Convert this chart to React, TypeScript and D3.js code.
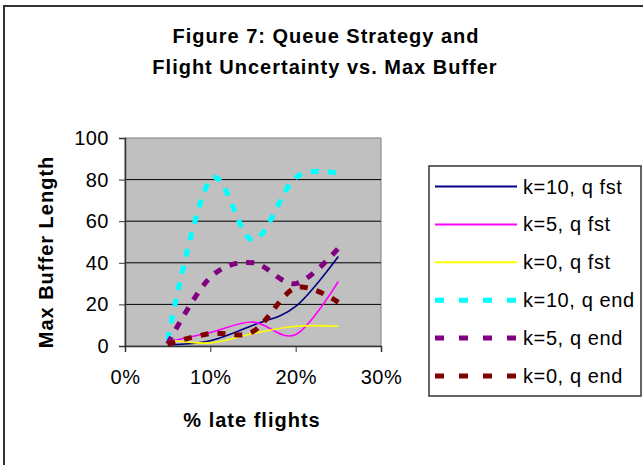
import { useEffect, useRef } from 'react'
import * as d3 from 'd3'

const lateShare = [0.05, 0.1, 0.15, 0.2, 0.25]
const seriesNames = ['k=10, q fst', 'k=5, q fst', 'k=0, q fst', 'k=10, q end', 'k=5, q end', 'k=0, q end']
const k10First = [0.5, 2.5, 10, 19, 43]
const k5First = [2, 6.5, 11.5, 5.5, 31]
const k0First = [3, 1.5, 6, 9.5, 9.5]
const k10End = [3, 80, 51, 81, 83]
const k5End = [1, 33, 40, 30, 47]
const k0End = [1, 6, 7, 28, 21]
const xTicks = [0, 0.1, 0.2, 0.3]
const yTicks = [0, 20, 40, 60, 80, 100]

const seriesValues = [k10First, k5First, k0First, k10End, k5End, k0End]
const colors = ['#000080', '#FF00FF', '#FFFF00', '#00FFFF', '#800080', '#800000']

export default function App() {
    const svgRef = useRef<SVGSVGElement>(null)

    useEffect(() => {
        if (!svgRef.current) return
        const svg = d3.select(svgRef.current)
        svg.selectAll('*').remove()

        const font = 'Liberation Sans, Arial, sans-serif'

        // chart frame
        svg.append('rect')
            .attr('x', 4).attr('y', 6)
            .attr('width', 700).attr('height', 500)
            .attr('fill', 'white')
            .attr('stroke', '#333')
            .attr('stroke-width', 2)

        // title
        const title = svg.append('text')
            .attr('text-anchor', 'middle')
            .style('font-family', font)
            .style('font-size', '20px')
            .style('font-weight', 'bold')
            .style('letter-spacing', '1px')
        title.append('tspan').attr('x', 326).attr('y', 43).text('Figure 7: Queue Strategy and')
        title.append('tspan').attr('x', 325).attr('y', 74).text('Flight Uncertainty vs. Max Buffer')

        const plot = { left: 125, right: 381, top: 138, bottom: 346 }
        const x = d3.scaleLinear().domain([0, 0.3]).range([plot.left, plot.right])
        const y = d3.scaleLinear().domain([0, 100]).range([plot.bottom, plot.top])

        svg.append('rect')
            .attr('x', plot.left).attr('y', plot.top)
            .attr('width', plot.right - plot.left)
            .attr('height', plot.bottom - plot.top)
            .attr('fill', '#C0C0C0')
            .attr('stroke', '#808080')
            .attr('stroke-width', 1)

        // gridlines
        svg.selectAll('.grid')
            .data(yTicks.filter(d => d > 0 && d < 100))
            .enter()
            .append('line')
            .attr('x1', plot.left).attr('x2', plot.right)
            .attr('y1', d => y(d)).attr('y2', d => y(d))
            .attr('stroke', 'black')
            .attr('stroke-width', 1)

        // axes
        const yAxis = svg.append('g')
            .attr('transform', `translate(${plot.left},0)`)
            .call(d3.axisLeft(y).tickValues(yTicks).tickSize(6).tickPadding(10))
        const xAxis = svg.append('g')
            .attr('transform', `translate(0,${plot.bottom})`)
            .call(d3.axisBottom(x).tickValues(xTicks).tickSize(6).tickPadding(18).tickFormat(d3.format('.0%')))
        for (const ax of [yAxis, xAxis]) {
            ax.select('.domain').attr('stroke', '#333').attr('stroke-width', 1.5)
            ax.selectAll('line').attr('stroke', '#333')
            ax.selectAll('text')
                .style('font-family', font)
                .style('font-size', '20px')
                .style('letter-spacing', '0.5px')
                .attr('fill', 'black')
        }

        // axis titles
        svg.append('text')
            .attr('x', 252).attr('y', 427)
            .attr('text-anchor', 'middle')
            .style('font-family', font)
            .style('font-size', '20px')
            .style('font-weight', 'bold')
            .style('letter-spacing', '1px')
            .text('% late flights')
        svg.append('text')
            .attr('transform', 'translate(53,252) rotate(-90)')
            .attr('text-anchor', 'middle')
            .style('font-family', font)
            .style('font-size', '20px')
            .style('font-weight', 'bold')
            .style('letter-spacing', '1px')
            .text('Max Buffer Length')

        // series
        const line = d3.line<number>()
            .x((_, i) => x(lateShare[i]))
            .y(d => y(d))
            .curve(d3.curveCardinal.tension(0))

        seriesValues.forEach((vals, i) => {
            const dashed = i >= 3
            svg.append('path')
                .attr('d', line(vals))
                .attr('fill', 'none')
                .attr('stroke', colors[i])
                .attr('stroke-width', dashed ? 5 : 1.6)
                .attr('stroke-dasharray', dashed ? '8,9' : null)
        })

        // legend
        const legend = { left: 429, top: 166, right: 641, bottom: 396 }
        svg.append('rect')
            .attr('x', legend.left).attr('y', legend.top)
            .attr('width', legend.right - legend.left)
            .attr('height', legend.bottom - legend.top)
            .attr('fill', 'white')
            .attr('stroke', '#333')
            .attr('stroke-width', 1.5)

        const rowY = d3.scaleLinear().domain([0, seriesNames.length - 1]).range([186.5, 376])
        seriesNames.forEach((name, i) => {
            const dashed = i >= 3
            svg.append('line')
                .attr('x1', 435).attr('x2', 517)
                .attr('y1', rowY(i)).attr('y2', rowY(i))
                .attr('stroke', colors[i])
                .attr('stroke-width', dashed ? 5 : 2)
                .attr('stroke-dasharray', dashed ? '9,15' : null)
            svg.append('text')
                .attr('x', 523).attr('y', rowY(i))
                .attr('dy', '0.35em')
                .style('font-family', font)
                .style('font-size', '20px')
                .style('letter-spacing', '0.6px')
                .text(name)
        })
    }, [])

    return (
        <svg ref={svgRef} width={643} height={465}
            style={{ position: 'absolute', left: 0, top: 0, background: 'white' }} />
    )
}
